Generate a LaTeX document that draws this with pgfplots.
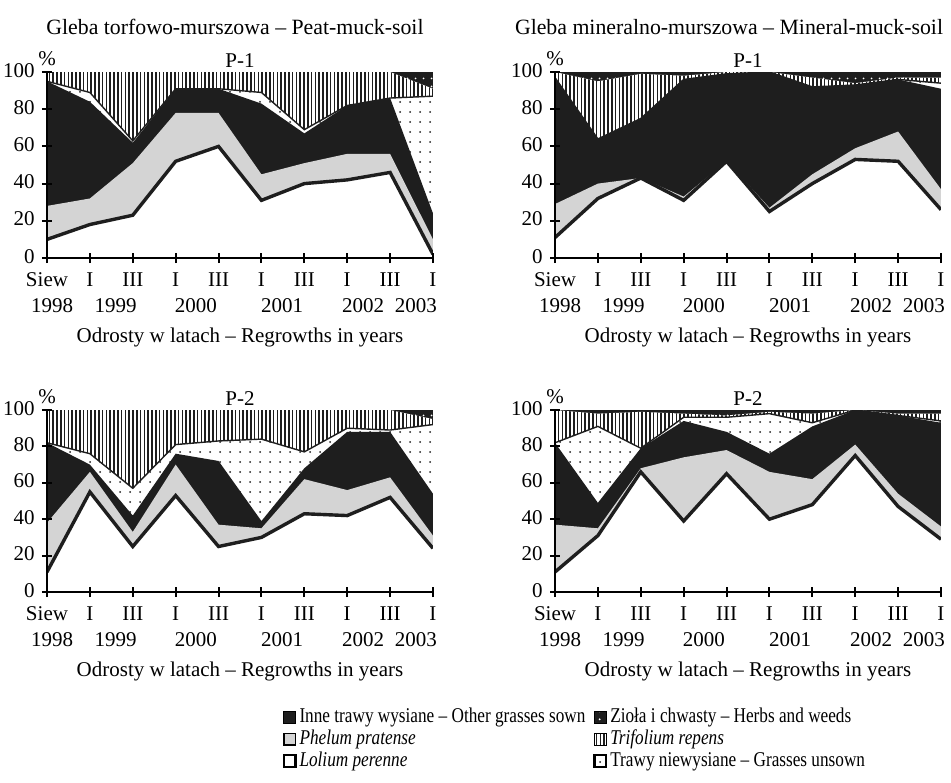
\documentclass[border=0pt]{standalone}
\usepackage{fontspec}
\setmainfont{Liberation Serif}
\newfontfamily\legfont{Liberation Serif}[FakeStretch=0.82, Ligatures=TeX]
\usepackage{pgfplots}
\pgfplotsset{compat=1.18}
\usepackage{pgfplotstable}
\usetikzlibrary{patterns,patterns.meta}

\definecolor{blk}{RGB}{30,30,30}
\definecolor{lgray}{RGB}{212,212,212}

\tikzset{
 zio/.style={fill=blk, postaction={pattern={Dots[distance=4pt,radius=0.55pt]}, pattern color=white}},
 tri/.style={fill=white, postaction={pattern={Lines[angle=90,distance=1.9pt,line width=0.85pt]}, pattern color=blk}},
 tra/.style={fill=white, postaction={pattern={Dots[distance=5pt,radius=0.5pt]}, pattern color=blk}},
 inn/.style={fill=blk},
 phe/.style={fill=lgray},
 lol/.style={fill=white},
}

% cumulative tops: Lolium, Phelum, Inne, Trawy niewysiane, Trifolium, Ziola
\pgfplotstableread{
x lol phe inn tra tri zio
0 10 28 95 95 100 100
1 18 32 84 89 100 100
2 23 51 62 63 100 100
3 52 78 91 91 100 100
4 60 78 91 91 100 100
5 31 45 83 89 100 100
6 40 51 67 69 100 100
7 42 56 82 82 100 100
8 46 56 86 86 100 100
9 2 10 24 87 91 100
}\tabA
\pgfplotstableread{
x lol phe inn tra tri zio
0 11 29 97 97 100 100
1 32 40 64 64 95 100
2 43 43 75 75 99 100
3 31 33 96 96 98 100
4 52 52 99 99 100 100
5 25 27 100 100 100 100
6 40 45 92 92 97 100
7 53 59 93 93 94 100
8 52 68 96 96 97 100
9 26 37 91 94 97 100
}\tabB
\pgfplotstableread{
x lol phe inn tra tri zio
0 11 38 82 82 100 100
1 55 66 70 76 100 100
2 25 33 42 57 100 100
3 53 70 76 81 100 100
4 25 37 72 83 100 100
5 30 35 39 84 100 100
6 43 62 68 77 100 100
7 42 56 88 90 100 100
8 52 63 88 89 100 100
9 24 31 54 92 95 100
}\tabC
\pgfplotstableread{
x lol phe inn tra tri zio
0 11 37 82 82 100 100
1 31 35 49 91 98 100
2 66 68 79 79 99 100
3 39 74 94 96 98 100
4 65 78 88 96 97 100
5 40 66 76 98 99 100
6 48 62 91 93 98 100
7 75 81 100 100 100 100
8 47 54 97 97 98 100
9 29 36 93 94 98 100
}\tabD

\pgfplotsset{
 every axis title/.style={at={(0.5,1)}, anchor=base, yshift=2.5pt},
 panel/.style={
  scale only axis, width=193pt,
  xmin=0, xmax=9, ymin=0, ymax=100,
  axis lines=left, axis line style={-, line width=1.2pt},
  axis on top,
  xtick={0,...,9}, ytick={0,20,...,100},
  xticklabels={Siew,I,III,I,III,I,III,I,III,I},
  xticklabel style={yshift=1pt},
  extra x ticks={0.12,1.6,3.47,5.48,7.37,8.6},
  extra x tick labels={1998,1999,2000,2001,2002,2003},
  extra x tick style={major tick length=0pt, tick label style={yshift=-15.5pt}},
  tick align=center, major tick length=5pt,
  tick style={black, line width=1pt},
  /pgf/number format/assume math mode=true,
  typeset ticklabels with strut,
  ylabel={\%},
  ylabel style={rotate=-90, at={(axis description cs:0,1)}, anchor=base, yshift=3.5pt},
  xlabel={Odrosty w latach -- Regrowths in years},
  xlabel style={at={(axis description cs:0.5,0)}, anchor=center, yshift=-39.5pt},
 },
}

\newcommand{\stackareas}[1]{%
 \addplot[zio, draw=none, forget plot] table[x=x,y=zio]{#1} \closedcycle;
 \addplot[tri, draw=none, forget plot] table[x=x,y=tri]{#1} \closedcycle;
 \addplot[tra, draw=none, forget plot] table[x=x,y=tra]{#1} \closedcycle;
 \addplot[inn, draw=none, forget plot] table[x=x,y=inn]{#1} \closedcycle;
 \addplot[phe, draw=none, forget plot] table[x=x,y=phe]{#1} \closedcycle;
 \addplot[lol, draw=none, forget plot] table[x=x,y=lol]{#1} \closedcycle;
 \addplot[blk, line width=0.7pt, forget plot] table[x=x,y=tra]{#1};
 \addplot[blk, line width=1.7pt, forget plot] table[x=x,y=lol]{#1};
}

\begin{document}
\fontsize{10.5}{12.6}\selectfont
\begin{tikzpicture}
\path[use as bounding box] (0,0) rectangle (475.5pt,-391pt);

\node[anchor=base, font=\fontsize{10.9}{13}\selectfont] at (117.5pt,-17pt) {Gleba torfowo-murszowa -- Peat-muck-soil};
\node[anchor=base, font=\fontsize{10.9}{13}\selectfont] at (364.5pt,-17pt) {Gleba mineralno-murszowa -- Mineral-muck-soil};

\begin{axis}[panel, height=93pt, at={(23.5pt,-129pt)}, anchor=south west, title={P-1}]
\stackareas{\tabA}
\end{axis}

\begin{axis}[panel, height=93pt, at={(277.5pt,-129pt)}, anchor=south west, title={P-1}]
\stackareas{\tabB}
\end{axis}

\begin{axis}[panel, height=91pt, at={(23.5pt,-296pt)}, anchor=south west, title={P-2}]
\stackareas{\tabC}
\end{axis}

\begin{axis}[panel, height=91pt, at={(277.5pt,-296pt)}, anchor=south west, title={P-2},
  legend columns=2,
  legend cell align=left,
  legend style={at={(-0.7065,-0.625)}, anchor=north west, draw=none, fill=none,
    inner sep=0pt, column sep=0.5pt, row sep=0pt, font=\legfont,
    /tikz/every even column/.append style={column sep=3pt},
    nodes={inner sep=1pt, anchor=base west}},
  legend image code/.code={\draw[#1] (0pt,-0.3pt) rectangle (5.8pt,5.5pt);},
]
\stackareas{\tabD}
\addlegendimage{inn, draw=black, line width=0.6pt}
\addlegendentry{Inne trawy wysiane -- Other grasses sown}
\addlegendimage{zio, draw=black, line width=0.6pt}
\addlegendentry{Zioła i chwasty -- Herbs and weeds}
\addlegendimage{phe, draw=black, line width=0.8pt}
\addlegendentry{\textit{Phelum pratense}}
\addlegendimage{tri, draw=black, line width=0.6pt}
\addlegendentry{\textit{Trifolium repens}}
\addlegendimage{lol, draw=black, line width=1.1pt}
\addlegendentry{\textit{Lolium perenne}}
\addlegendimage{tra, draw=black, line width=1.1pt}
\addlegendentry{Trawy niewysiane -- Grasses unsown}
\end{axis}
\end{tikzpicture}
\end{document}
